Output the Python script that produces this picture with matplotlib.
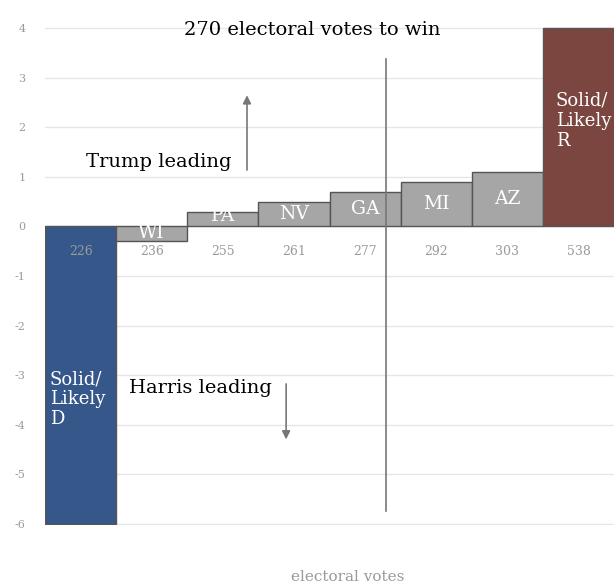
import numpy as np
import matplotlib.pyplot as plt

plt.rcParams['font.family'] = ['DejaVu Serif']
plt.rcParams['axes.unicode_minus'] = False

# data
labels = ["Solid/\nLikely\nD", "WI", "PA", "NV", "GA", "MI", "AZ", "Solid/\nLikely\nR"]
margins = [-6, -0.3, 0.3, 0.5, 0.7, 0.9, 1.1, 4]
cum_votes = [226, 236, 255, 261, 277, 292, 303, 538]
colors = ["#36578a", "#a6a6a6", "#a6a6a6", "#a6a6a6", "#a6a6a6", "#a6a6a6", "#a6a6a6", "#7b4640"]
yticks = [4, 3, 2, 1, 0, -1, -2, -3, -4, -5, -6]

fig = plt.figure(figsize=(6.14, 5.86), dpi=100)
ax = fig.add_axes([45/614, 61/586, 1 - 45/614, 498/586])

x = np.arange(len(margins))
ax.bar(x, margins, width=1.0, align='edge', color=colors,
       edgecolor="#555555", linewidth=1.0, zorder=3)

for yv in yticks:
    ax.axhline(yv, color="#e6e6e6", linewidth=1.0, zorder=0)

ax.set_xlim(0, 8)
ax.set_ylim(-6.02, 4.02)
ax.set_yticks(yticks)
ax.set_yticklabels([str(v) for v in yticks], color="#9a9a9a", fontsize=8)
ax.tick_params(axis='y', length=0, pad=14)
ax.set_xticks([])
for s in ax.spines.values():
    s.set_visible(False)

# labels under bars
for i, v in enumerate(cum_votes):
    ax.text(i + 0.5, -0.5, str(v), ha='center', va='center',
            color="#9a9a9a", fontsize=9, zorder=4)

# state labels inside small bars
for i in range(1, 7):
    m = margins[i]
    yl = max(m / 2, 0.2) if m > 0 else -0.14
    ax.text(i + 0.5, yl, labels[i], ha='center', va='center',
            color="white", fontsize=13.5, zorder=4)

# big bar labels
ax.text(0.07, -2.9, labels[0], ha='left', va='top', color="white",
        fontsize=13, linespacing=1.15, zorder=4)
ax.text(7.18, 2.72, labels[7], ha='left', va='top', color="white",
        fontsize=13, linespacing=1.15, zorder=4)

# 270 line
ax.plot([4.8, 4.8], [3.38, -5.74], color="#777777", linewidth=1.2, zorder=5)
ax.text(3.76, 3.95, "270 electoral votes to win", ha='center', va='center',
        fontsize=14, color="black")

# leading annotations
ax.text(0.58, 1.3, "Trump leading", ha='left', va='center', fontsize=14)
ax.annotate("", xy=(2.84, 2.7), xytext=(2.84, 1.08),
            arrowprops=dict(arrowstyle='-|>', color="#777777", lw=1.2, mutation_scale=12))
ax.text(1.18, -3.26, "Harris leading", ha='left', va='center', fontsize=14)
ax.annotate("", xy=(3.39, -4.35), xytext=(3.39, -3.12),
            arrowprops=dict(arrowstyle='-|>', color="#777777", lw=1.2, mutation_scale=12))

fig.text(348/614, 1 - 577/586, "electoral votes", ha='center', va='center',
         color="#9a9a9a", fontsize=11)

fig.savefig("out.png", dpi=100)
